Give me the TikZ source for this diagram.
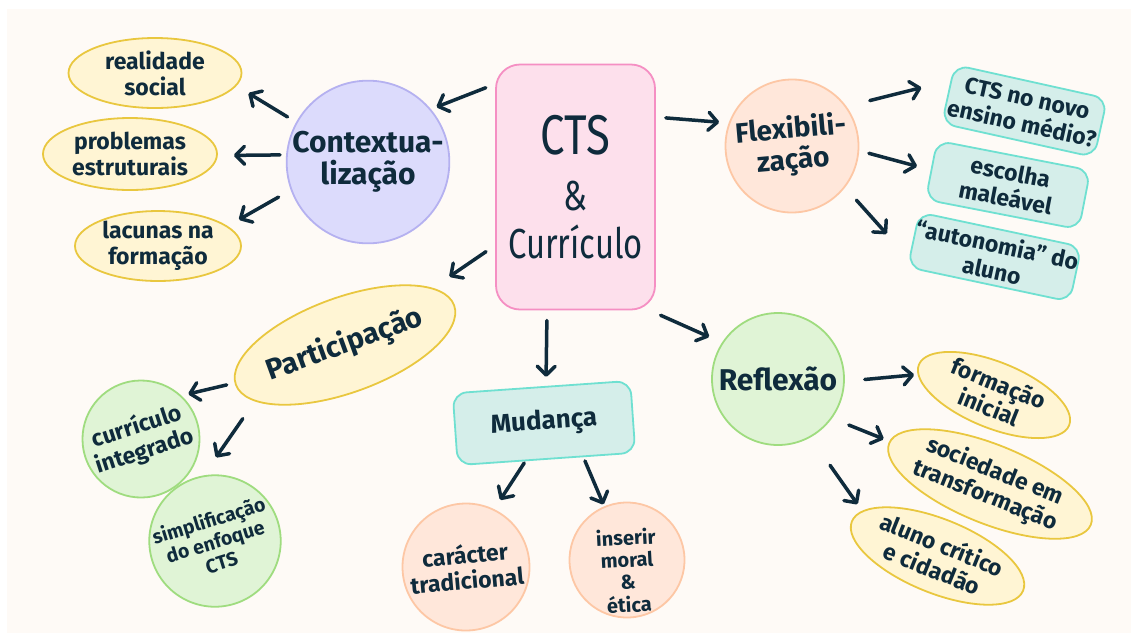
\documentclass[tikz,border=0pt]{standalone}
\usepackage{fontspec}
\setmainfont{Fira Sans}
\newfontfamily\narrowfont{Fira Sans}[FakeStretch=0.78]
\usetikzlibrary{arrows.meta,shapes.geometric}
\definecolor{ink}{HTML}{0F2B3C}
\definecolor{bgc}{HTML}{FEFAF6}
\definecolor{pkfill}{HTML}{FDE0EC}
\definecolor{pkdraw}{HTML}{F58FC3}
\definecolor{pufill}{HTML}{DCDBFC}
\definecolor{pudraw}{HTML}{B5B1F0}
\definecolor{yfill}{HTML}{FFF5D4}
\definecolor{ydraw}{HTML}{E9C73F}
\definecolor{pfill}{HTML}{FFE7DA}
\definecolor{pdraw}{HTML}{FDC7A5}
\definecolor{tfill}{HTML}{D5EEEA}
\definecolor{tdraw}{HTML}{6FE0D1}
\definecolor{gfill}{HTML}{E0F4D6}
\definecolor{gdraw}{HTML}{9FDC7F}
\newcommand\lowered[2]{\raisebox{-#1}[\height][\depth]{\begin{tabular}{@{}c@{}}#2\end{tabular}}}
\tikzset{
  base/.style={draw, line width=1.8pt, text=ink, align=center, inner sep=0pt,
    font=\bfseries\fontsize{23}{26}\selectfont},
  yel/.style={base, ellipse, fill=yfill, draw=ydraw},
  grn/.style={base, circle, fill=gfill, draw=gdraw},
  pch/.style={base, circle, fill=pfill, draw=pdraw},
  tel/.style={base, rectangle, rounded corners=14pt, fill=tfill, draw=tdraw},
  arr/.style={draw=ink, line width=3.5pt, line cap=round,
    -{Straight Barb[length=9pt,width=18pt,round]}},
}
\begin{document}
\begin{tikzpicture}[x=1pt,y=-1pt]
\useasboundingbox (0,0) rectangle (1131,633);
\fill[white] (0,0) rectangle (1131,633);
\fill[bgc] (7,9) rectangle (1131,633);

% centre
\node[base, rectangle, rounded corners=24pt, fill=pkfill, draw=pkdraw,
  minimum width=159pt, minimum height=245pt,
  font=\narrowfont\fontsize{42}{50}\selectfont] (cts) at (575.5,187)
  {{\fontsize{56}{50}\selectfont CTS}\\[6pt]\&\\[-2pt]Currículo};

% contextualizacao
\node[base, circle, fill=pufill, draw=pudraw, minimum size=154pt,
  font=\bfseries\fontsize{30}{32}\selectfont] (ctx) at (368,162) {Contextua-\\lização};
\node[yel, minimum width=173pt, minimum height=70pt] (real) at (155,73) {realidade\\social};
\node[yel, minimum width=174pt, minimum height=72pt] (prob) at (130,154) {problemas\\estruturais};
\node[yel, minimum width=166pt, minimum height=69pt] (lac) at (158,246) {lacunas na\\formação};

% flexibilizacao
\node[pch, minimum size=133pt, rotate=5,
  font=\bfseries\fontsize{28}{31}\selectfont] (flex) at (792,146) {Flexibili-\\zação};
\node[tel, minimum width=156pt, minimum height=60pt, rotate=-12.5] (novo) at (1024.5,111) {CTS no novo\\ensino médio?};
\node[tel, minimum width=156pt, minimum height=60pt, rotate=-11] (esc) at (1008,185) {escolha\\maleável};
\node[tel, minimum width=158pt, minimum height=56pt, rotate=-12] (aut) at (994.6,257) {“autonomia” do\\aluno};

% participacao
\node[yel, minimum width=205pt, minimum height=95pt, rotate=20,
  font=\bfseries\fontsize{29}{30}\selectfont] (part) at (345,345) {Participação};
\node[grn, minimum size=117pt, rotate=18] (curint) at (141,439) {currículo\\integrado};
\node[grn, minimum size=130pt, rotate=17,
  font=\bfseries\fontsize{19.5}{22}\selectfont] (simp) at (215,541) {simplificação\\do enfoque\\CTS};

% mudanca
\node[tel, minimum width=178pt, minimum height=72pt, rotate=4,
  font=\bfseries\fontsize{26}{28}\selectfont] (mud) at (544,423) {Mudança};
\node[pch, minimum size=127pt, rotate=5] (car) at (466,567) {carácter\\tradicional};
\node[pch, minimum size=115pt, rotate=3,
  font=\bfseries\fontsize{20}{22}\selectfont] (ins) at (627,560) {\lowered{14pt}{inserir\\moral\\\&\\ética}};

% reflexao
\node[grn, minimum size=132pt, font=\bfseries\fontsize{30}{32}\selectfont] (refl) at (778,379) {Reflexão};
\node[yel, minimum width=162pt, minimum height=66pt, rotate=-22] (fini) at (994,395) {formação\\inicial};
\node[yel, minimum width=190pt, minimum height=79pt, rotate=-22] (soc) at (990,484) {sociedade em\\transformação};
\node[yel, minimum width=180pt, minimum height=74pt, rotate=-22] (aluno) at (937.5,556) {aluno crítico\\e cidadão};

% connectors
\draw[arr, shorten <=10pt, shorten >=6pt] (cts.128) -- (ctx.40);
\draw[arr, shorten <=10pt, shorten >=14pt] (ctx.151) -- (real.-9);
\draw[arr, shorten <=6pt, shorten >=16pt] (ctx.175.5) -- (prob.-1);
\draw[arr, shorten <=14pt, shorten >=13pt] (ctx.200) -- (lac.16);
\draw[arr, shorten <=10pt, shorten >=9.5pt] (cts.41) -- (flex.155);
\draw[arr, shorten <=24pt, shorten >=30pt] (flex.31) -- (novo.170);
\draw[arr, shorten <=10pt, shorten >=14pt] (flex.-9) -- (esc.180);
\draw[arr, shorten <=17pt, shorten >=33pt] (flex.-43) -- (aut.193);
\draw[arr, shorten <=11pt, shorten >=20pt] (cts.216) -- (part.13);
\draw[arr, shorten <=8pt, shorten >=7pt] (part.179) -- (curint.29);
\draw[arr, shorten <=21pt, shorten >=22pt] (part.192.5) -- (simp.83);
\draw[arr, shorten <=10pt, shorten >=9pt] (cts.257.5) -- (mud.83);
\draw[arr, shorten <=2pt, shorten >=11pt] (mud.240) -- (car.59);
\draw[arr, shorten <=4pt, shorten >=2pt] (mud.315.6) -- (ins.110);
\draw[arr, shorten <=12pt, shorten >=14pt] (cts.301) -- (refl.147);
\draw[arr, shorten <=20pt, shorten >=3.5pt] (refl.-2.6) -- (fini.187);
\draw[arr, shorten <=18pt, shorten >=6pt] (refl.-36) -- (soc.179);
\draw[arr, shorten <=34pt, shorten >=8pt] (refl.-61.5) -- (aluno.171);
\end{tikzpicture}
\end{document}
